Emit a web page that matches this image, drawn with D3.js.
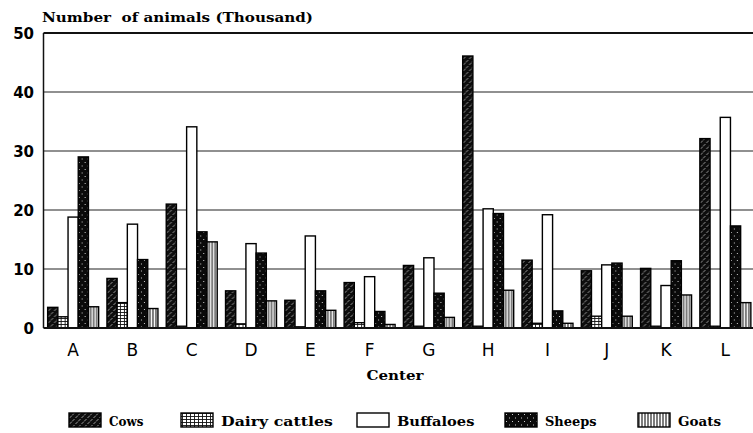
<!DOCTYPE html>
<html>
<head>
<meta charset="utf-8">
<script src="https://cdn.jsdelivr.net/npm/d3@7"></script>
<style>
  body { margin: 0; background: #fff; }
  svg { display: block; }
</style>
</head>
<body>
<svg width="753" height="433"></svg>
<script>
// values (thousand animals)
const centers = ['A', 'B', 'C', 'D', 'E', 'F', 'G', 'H', 'I', 'J', 'K', 'L'];
const seriesNames = ['Cows', 'Dairy cattles', 'Buffaloes', 'Sheeps', 'Goats'];
const cows = [3.5, 8.4, 21.0, 6.3, 4.7, 7.7, 10.6, 46.1, 11.5, 9.7, 10.1, 32.1];
const dairy = [1.9, 4.3, 0.3, 0.7, 0.2, 0.9, 0.3, 0.3, 0.8, 2.0, 0.3, 0.3];
const buffaloes = [18.8, 17.6, 34.1, 14.3, 15.6, 8.7, 11.9, 20.2, 19.2, 10.7, 7.2, 35.7];
const sheeps = [29.0, 11.6, 16.3, 12.7, 6.3, 2.8, 5.9, 19.4, 2.9, 11.0, 11.4, 17.3];
const goats = [3.6, 3.3, 14.6, 4.6, 3.0, 0.6, 1.8, 6.4, 0.8, 2.0, 5.6, 4.3];
const yTicks = [0, 10, 20, 30, 40, 50];

const values = [cows, dairy, buffaloes, sheeps, goats];
const patternIds = ['p-cows', 'p-dairy', 'p-buff', 'p-sheep', 'p-goats'];

const svg = d3.select('svg');
const plotLeft = 43.5, plotRight = 755, plotTop = 33, plotBottom = 328;

// fill patterns imitating the printed textures
const defs = svg.append('defs');
let p = defs.append('pattern').attr('id', 'p-cows').attr('patternUnits', 'userSpaceOnUse')
  .attr('width', 6).attr('height', 6);
p.append('rect').attr('width', 6).attr('height', 6).attr('fill', '#0d0d0d');
p.append('path').attr('d', 'M0.5,5 L3,2.5 M3.5,2 L5.5,0').attr('stroke', '#bbb').attr('stroke-width', 0.8);

p = defs.append('pattern').attr('id', 'p-dairy').attr('patternUnits', 'userSpaceOnUse')
  .attr('width', 4).attr('height', 3);
p.append('rect').attr('width', 4).attr('height', 3).attr('fill', '#fff');
p.append('path').attr('d', 'M0,0.5 H4 M1.5,0 V3').attr('stroke', '#111').attr('stroke-width', 0.9);

p = defs.append('pattern').attr('id', 'p-buff').attr('patternUnits', 'userSpaceOnUse')
  .attr('width', 4).attr('height', 4);
p.append('rect').attr('width', 4).attr('height', 4).attr('fill', '#fff');

p = defs.append('pattern').attr('id', 'p-sheep').attr('patternUnits', 'userSpaceOnUse')
  .attr('width', 6).attr('height', 7);
p.append('rect').attr('width', 6).attr('height', 7).attr('fill', '#0a0a0a');
p.append('rect').attr('x', 1).attr('y', 1).attr('width', 1).attr('height', 1).attr('fill', '#ccc');
p.append('rect').attr('x', 4).attr('y', 4.5).attr('width', 1).attr('height', 1).attr('fill', '#ccc');

p = defs.append('pattern').attr('id', 'p-goats').attr('patternUnits', 'userSpaceOnUse')
  .attr('width', 3).attr('height', 4);
p.append('rect').attr('width', 3).attr('height', 4).attr('fill', '#fff');
p.append('path').attr('d', 'M1,0 V4').attr('stroke', '#111').attr('stroke-width', 1.1);

const x0 = d3.scaleBand()
  .domain(centers)
  .range([plotLeft, plotRight])
  .paddingInner(0.14)
  .paddingOuter(0.07);

const x1 = d3.scaleBand()
  .domain(d3.range(seriesNames.length))
  .range([0, x0.bandwidth()]);

const y = d3.scaleLinear()
  .domain([0, 50])
  .range([plotBottom, plotTop]);

// grid lines
svg.append('g')
  .selectAll('line')
  .data(yTicks.filter(d => d > 0 && d < 50))
  .enter().append('line')
  .attr('x1', plotLeft).attr('x2', 753)
  .attr('y1', d => y(d)).attr('y2', d => y(d))
  .attr('stroke', '#222')
  .attr('stroke-width', 1.2);

// top frame line
svg.append('line')
  .attr('x1', plotLeft).attr('x2', 753)
  .attr('y1', y(50)).attr('y2', y(50))
  .attr('stroke', '#111').attr('stroke-width', 2);

// bars
const group = svg.append('g')
  .selectAll('g')
  .data(centers)
  .enter().append('g')
  .attr('transform', d => 'translate(' + x0(d) + ',0)');

group.selectAll('rect')
  .data((c, i) => values.map((v, s) => ({ s: s, v: v[i] })))
  .enter().append('rect')
  .attr('x', d => x1(d.s))
  .attr('y', d => y(d.v))
  .attr('width', x1.bandwidth())
  .attr('height', d => y(0) - y(d.v))
  .attr('fill', d => 'url(#' + patternIds[d.s] + ')')
  .attr('stroke', '#000')
  .attr('stroke-width', 1.4);

// y axis
svg.append('line')
  .attr('x1', plotLeft).attr('x2', plotLeft)
  .attr('y1', plotTop).attr('y2', plotBottom)
  .attr('stroke', '#111').attr('stroke-width', 1.5);

svg.append('line')
  .attr('x1', plotLeft).attr('x2', 753)
  .attr('y1', plotBottom).attr('y2', plotBottom)
  .attr('stroke', '#111').attr('stroke-width', 2);

svg.append('g')
  .selectAll('text')
  .data(yTicks)
  .enter().append('text')
  .attr('x', 34)
  .attr('y', d => y(d) + 5.5)
  .attr('text-anchor', 'end')
  .style('font-family', 'DejaVu Sans')
  .style('font-weight', 'bold')
  .style('font-size', '15px')
  .text(d => d);

// category labels
svg.append('g')
  .selectAll('text')
  .data(centers)
  .enter().append('text')
  .attr('x', d => x0(d) + x0.bandwidth() / 2)
  .attr('y', 356)
  .attr('text-anchor', 'middle')
  .style('font-family', 'DejaVu Sans')
  .style('font-size', '17px')
  .text(d => d);

// titles
svg.append('text')
  .attr('x', 42).attr('y', 22)
  .attr('textLength', 271)
  .attr('lengthAdjust', 'spacingAndGlyphs')
  .style('white-space', 'pre')
  .style('font-family', 'DejaVu Serif')
  .style('font-weight', 'bold')
  .style('font-size', '12px')
  .text('Number  of animals (Thousand)');

svg.append('text')
  .attr('x', 395).attr('y', 380)
  .attr('text-anchor', 'middle')
  .attr('textLength', 57)
  .attr('lengthAdjust', 'spacingAndGlyphs')
  .style('font-family', 'DejaVu Serif')
  .style('font-weight', 'bold')
  .style('font-size', '12px')
  .text('Center');

// legend
const legendX = [69, 181, 357, 505, 638];
const legend = svg.append('g')
  .selectAll('g')
  .data(seriesNames)
  .enter().append('g')
  .attr('transform', (d, i) => 'translate(' + legendX[i] + ',413)');

legend.append('rect')
  .attr('width', 32).attr('height', 14)
  .attr('fill', (d, i) => 'url(#' + patternIds[i] + ')')
  .attr('stroke', '#000').attr('stroke-width', 1.4);

legend.append('text')
  .attr('x', 40).attr('y', 12.5)
  .attr('textLength', d => d.length * 8.6)
  .attr('lengthAdjust', 'spacingAndGlyphs')
  .style('font-family', 'DejaVu Serif')
  .style('font-weight', 'bold')
  .style('font-size', '12px')
  .text(d => d);
</script>
</body>
</html>
